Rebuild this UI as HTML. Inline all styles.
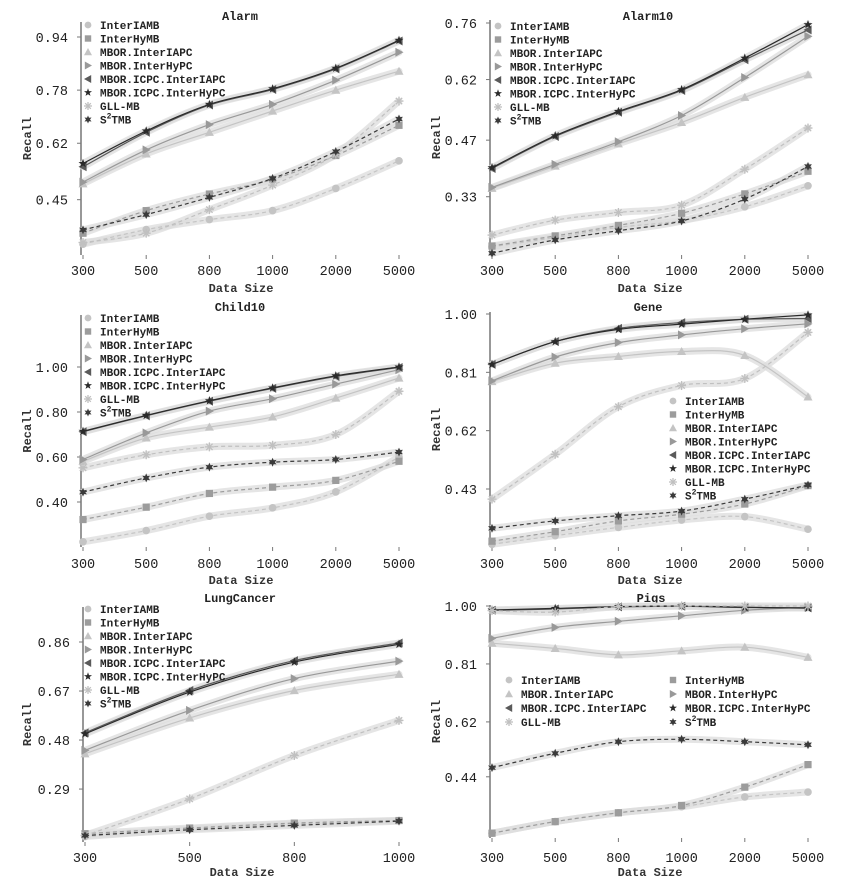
<!DOCTYPE html>
<html><head><meta charset="utf-8"><style>
html,body{margin:0;padding:0;background:#fff;}
svg{display:block;}
</style></head><body>
<svg id="chart" width="865" height="880" xmlns="http://www.w3.org/2000/svg" font-family="'Liberation Mono', monospace"></svg>
<script>
const categories6 = ["300","500","800","1000","2000","5000"];
const categories4 = ["300","500","800","1000"];
const seriesNames = ["InterIAMB","InterHyMB","MBOR.InterIAPC","MBOR.InterHyPC","MBOR.ICPC.InterIAPC","MBOR.ICPC.InterHyPC","GLL-MB","S2TMB"];

const alarmIAMB = [0.316,0.36,0.39,0.417,0.484,0.567];
const alarmHyMB = [0.349,0.417,0.467,0.511,0.583,0.674];
const alarmIAPC = [0.498,0.588,0.653,0.717,0.78,0.837];
const alarmHyPC = [0.503,0.60,0.676,0.737,0.81,0.894];
const alarmIcpcIAPC = [0.549,0.653,0.735,0.782,0.844,0.928];
const alarmIcpcHyPC = [0.559,0.657,0.737,0.784,0.846,0.93];
const alarmGLL = [0.321,0.349,0.42,0.494,0.587,0.747];
const alarmS2TMB = [0.359,0.405,0.457,0.514,0.595,0.693];
const alarmTicks = [0.94,0.78,0.62,0.45];

const alarm10IAMB = [0.206,0.229,0.254,0.271,0.305,0.357];
const alarm10HyMB = [0.208,0.233,0.259,0.289,0.337,0.393];
const alarm10IAPC = [0.351,0.406,0.461,0.514,0.576,0.632];
const alarm10HyPC = [0.353,0.41,0.466,0.531,0.625,0.727];
const alarm10IcpcIAPC = [0.40,0.479,0.539,0.593,0.669,0.743];
const alarm10IcpcHyPC = [0.402,0.481,0.541,0.595,0.673,0.756];
const alarm10GLL = [0.235,0.272,0.291,0.309,0.398,0.50];
const alarm10S2TMB = [0.19,0.223,0.246,0.27,0.324,0.405];
const alarm10Ticks = [0.76,0.62,0.47,0.33];

const childIAMB = [0.223,0.273,0.337,0.374,0.445,0.60];
const childHyMB = [0.322,0.377,0.438,0.466,0.496,0.581];
const childIAPC = [0.581,0.685,0.733,0.778,0.862,0.951];
const childHyPC = [0.589,0.707,0.804,0.859,0.924,0.988];
const childIcpcIAPC = [0.712,0.783,0.848,0.905,0.958,0.998];
const childIcpcHyPC = [0.714,0.785,0.85,0.907,0.961,1.0];
const childGLL = [0.552,0.61,0.645,0.652,0.70,0.892];
const childS2TMB = [0.444,0.507,0.555,0.577,0.589,0.622];
const childTicks = [1.00,0.80,0.60,0.40];

const geneIAMB = [0.25,0.278,0.305,0.329,0.34,0.299];
const geneHyMB = [0.26,0.291,0.326,0.348,0.381,0.441];
const geneIAPC = [0.78,0.84,0.862,0.878,0.865,0.73];
const geneHyPC = [0.782,0.86,0.907,0.932,0.952,0.968];
const geneIcpcIAPC = [0.836,0.91,0.953,0.972,0.983,0.985];
const geneIcpcHyPC = [0.836,0.91,0.95,0.967,0.983,0.997];
const geneGLL = [0.397,0.543,0.698,0.767,0.79,0.94];
const geneS2TMB = [0.302,0.326,0.343,0.358,0.397,0.443];
const geneTicks = [1.00,0.81,0.62,0.43];

const lungIAMB = [0.106,0.135,0.155,0.168];
const lungHyMB = [0.117,0.139,0.158,0.168];
const lungIAPC = [0.427,0.566,0.672,0.735];
const lungHyPC = [0.44,0.595,0.718,0.786];
const lungIcpcIAPC = [0.508,0.672,0.788,0.856];
const lungIcpcHyPC = [0.504,0.666,0.782,0.851];
const lungGLL = [0.11,0.252,0.42,0.556];
const lungS2TMB = [0.11,0.132,0.149,0.166];
const lungTicks = [0.86,0.67,0.48,0.29];

const pigsIAMB = [0.255,0.293,0.322,0.342,0.374,0.39];
const pigsHyMB = [0.255,0.293,0.322,0.346,0.406,0.48];
const pigsIAPC = [0.878,0.861,0.84,0.853,0.865,0.832];
const pigsHyPC = [0.894,0.93,0.95,0.968,0.986,0.996];
const pigsIcpcIAPC = [0.986,0.99,0.997,0.999,0.995,0.994];
const pigsIcpcHyPC = [0.987,0.992,0.998,1.0,0.996,0.993];
const pigsGLL = [0.985,0.98,0.998,1.0,1.0,1.0];
const pigsS2TMB = [0.47,0.517,0.555,0.563,0.555,0.545];
const pigsTicks = [1.00,0.81,0.62,0.44];

const NS="http://www.w3.org/2000/svg";
const svg=document.getElementById('chart');
function mk(tag,attrs,parent){const e=document.createElementNS(NS,tag);for(const k in attrs)e.setAttribute(k,attrs[k]);(parent||svg).appendChild(e);return e;}

const styles=[
 {c:"#c4c4c4",dash:"4,3",m:"circle"},
 {c:"#9c9c9c",dash:"4,3",m:"square"},
 {c:"#c4c4c4",dash:"",m:"tri-up"},
 {c:"#999999",dash:"",m:"tri-right"},
 {c:"#5a5a5a",dash:"",m:"tri-left"},
 {c:"#2a2a2a",dash:"",m:"star"},
 {c:"#c0c0c0",dash:"4,3",m:"asterisk"},
 {c:"#3a3a3a",dash:"4,3",m:"star6"}
];

function marker(g,type,x,y,c,s){
 s=s||4.5;
 if(type==="circle")return mk('circle',{cx:x,cy:y,r:s*0.85,fill:c},g);
 if(type==="square")return mk('rect',{x:x-s*0.8,y:y-s*0.8,width:s*1.6,height:s*1.6,fill:c},g);
 if(type==="tri-up")return mk('polygon',{points:`${x},${y-s} ${x-s},${y+s*0.8} ${x+s},${y+s*0.8}`,fill:c},g);
 if(type==="tri-right")return mk('polygon',{points:`${x+s},${y} ${x-s*0.8},${y-s} ${x-s*0.8},${y+s}`,fill:c},g);
 if(type==="tri-left")return mk('polygon',{points:`${x-s},${y} ${x+s*0.8},${y-s} ${x+s*0.8},${y+s}`,fill:c},g);
 if(type==="star"){let p=[];for(let i=0;i<10;i++){const r=i%2?s*0.42:s*1.05;const a=-Math.PI/2+i*Math.PI/5;p.push((x+r*Math.cos(a)).toFixed(1)+","+(y+r*Math.sin(a)).toFixed(1));}return mk('polygon',{points:p.join(" "),fill:c},g);}
 if(type==="star6"){let p=[];for(let i=0;i<12;i++){const r=i%2?s*0.5:s*1.0;const a=-Math.PI/2+i*Math.PI/6;p.push((x+r*Math.cos(a)).toFixed(1)+","+(y+r*Math.sin(a)).toFixed(1));}return mk('polygon',{points:p.join(" "),fill:c},g);}
 if(type==="asterisk"){const gg=mk('g',{stroke:c,'stroke-width':1.3},g);for(let i=0;i<4;i++){const a=i*Math.PI/4;mk('line',{x1:x-s*Math.cos(a),y1:y-s*Math.sin(a),x2:x+s*Math.cos(a),y2:y+s*Math.sin(a)},gg);}return gg;}
}

function smooth(pts){
 let d=`M${pts[0][0]},${pts[0][1]}`;
 for(let i=0;i<pts.length-1;i++){
  const p0=pts[Math.max(i-1,0)],p1=pts[i],p2=pts[i+1],p3=pts[Math.min(i+2,pts.length-1)];
  const c1=[p1[0]+(p2[0]-p0[0])/6,p1[1]+(p2[1]-p0[1])/6];
  const c2=[p2[0]-(p3[0]-p1[0])/6,p2[1]-(p3[1]-p1[1])/6];
  d+=` C${c1[0].toFixed(1)},${c1[1].toFixed(1)} ${c2[0].toFixed(1)},${c2[1].toFixed(1)} ${p2[0].toFixed(1)},${p2[1].toFixed(1)}`;
 }
 return d;
}

function legendText(t,x,y,g){
 const tx=mk('text',{x:x,y:y+4,'font-size':11,'font-weight':'bold',fill:'#222'},g);
 if(t==="S2TMB"){tx.appendChild(document.createTextNode("S"));const sp=mk('tspan',{'font-size':8,dy:-5},tx);sp.textContent="2";const sp2=mk('tspan',{dy:5},tx);sp2.textContent="TMB";}
 else tx.textContent=t;
 return tx;
}

function panel(cfg){
 const g=mk('g',{});
 
 
 const n=cfg.cats.length;
 const xOf=i=>cfg.xL+(cfg.xR-cfg.xL)*i/(n-1);
 const yOf=v=>cfg.p0+(cfg.v0-v)*cfg.k;
 // axis
 const ax=mk('line',{x1:cfg.xL-2,y1:cfg.top,x2:cfg.xL-2,y2:cfg.bottom,stroke:'#777','stroke-width':1.5},g);
 
 
 cfg.ticks.forEach(t=>{
  const y=yOf(t);
  mk('line',{x1:cfg.xL-6,y1:y,x2:cfg.xL-2,y2:y,stroke:'#777'},g);
  const tl=mk('text',{x:cfg.xL-15,y:y+5,'font-size':13.5,'text-anchor':'end',fill:'#222'},g);
  tl.textContent=t.toFixed(2);
  
  
 });
 cfg.cats.forEach((c,i)=>{
  const x=xOf(i);
  mk('line',{x1:x,y1:cfg.bottom,x2:x,y2:cfg.bottom+4,stroke:'#777'},g);
  const tl=mk('text',{x:x,y:cfg.xly,'font-size':13.5,'text-anchor':'middle',fill:'#222'},g);
  tl.textContent=c;
  
  
 });
 const xt=mk('text',{x:(cfg.xL+cfg.xR)/2,y:cfg.xty,'font-size':12,'font-weight':'bold','text-anchor':'middle',fill:'#333'},g);
 xt.textContent="Data Size";
 
 
 const cy=(cfg.top+cfg.bottom)/2;
 const yt=mk('text',{x:cfg.ytx,y:cy,'font-size':12,'font-weight':'bold','text-anchor':'middle',fill:'#333',transform:`rotate(-90 ${cfg.ytx} ${cy})`},g);
 yt.textContent="Recall";
 
 
 const ti=mk('text',{x:cfg.tx,y:cfg.ty,'font-size':12,'font-weight':'bold','text-anchor':'middle',fill:'#222'},g);
 ti.textContent=cfg.title;
 
 
 // bands
 cfg.series.forEach((vals,si)=>{
  const pts=vals.map((v,i)=>[xOf(i),yOf(v)]);
  const b=mk('path',{d:smooth(pts),fill:'none',stroke:'#dcdcdc','stroke-width':7,'stroke-opacity':0.75,'stroke-linecap':'round'},g);
  
  
 });
 cfg.series.forEach((vals,si)=>{
  const st=styles[si];
  const pts=vals.map((v,i)=>[xOf(i),yOf(v)]);
  const l=mk('path',{d:smooth(pts),fill:'none',stroke:st.c,'stroke-width':1.2,'stroke-dasharray':st.dash},g);
  
  
  pts.forEach(p=>{
   const m=marker(g,st.m,p[0],p[1],st.c);
   
   
  });
 });
 // legend
 const lg=mk('g',{},g);
 
 
 seriesNames.forEach((nm,si)=>{
  let mx,my;
  if(cfg.legCols===2){const col=si%2,row=Math.floor(si/2);mx=cfg.legX[col];my=cfg.legY+row*14;}
  else{mx=cfg.legX[0];my=cfg.legY+si*13.5;}
  const e=mk('g',{},lg);
  
  
  marker(e,styles[si].m,mx,my,styles[si].c,4);
  legendText(nm,mx+12,my,e);
 });
}

panel({name:'alarm',title:'Alarm',cats:categories6,xL:83,xR:399,top:22,bottom:255,v0:0.94,p0:37,k:332,ticks:alarmTicks,tx:240,ty:20,xly:275,xty:292,ytx:31,legX:[88],legY:25,legCols:1,
 series:[alarmIAMB,alarmHyMB,alarmIAPC,alarmHyPC,alarmIcpcIAPC,alarmIcpcHyPC,alarmGLL,alarmS2TMB]});
panel({name:'alarm10',title:'Alarm10',cats:categories6,xL:492,xR:808,top:20,bottom:255,v0:0.76,p0:23,k:404,ticks:alarm10Ticks,tx:648,ty:20,xly:275,xty:292,ytx:440,legX:[498],legY:26,legCols:1,
 series:[alarm10IAMB,alarm10HyMB,alarm10IAPC,alarm10HyPC,alarm10IcpcIAPC,alarm10IcpcHyPC,alarm10GLL,alarm10S2TMB]});
panel({name:'child10',title:'Child10',cats:categories6,xL:83,xR:399,top:315,bottom:547,v0:1.0,p0:367,k:225,ticks:childTicks,tx:240,ty:311,xly:568,xty:584,ytx:31,legX:[88],legY:318,legCols:1,
 series:[childIAMB,childHyMB,childIAPC,childHyPC,childIcpcIAPC,childIcpcHyPC,childGLL,childS2TMB]});
panel({name:'gene',title:'Gene',cats:categories6,xL:492,xR:808,top:312,bottom:547,v0:1.0,p0:314,k:307,ticks:geneTicks,tx:648,ty:311,xly:568,xty:584,ytx:440,legX:[673],legY:401,legCols:1,
 series:[geneIAMB,geneHyMB,geneIAPC,geneHyPC,geneIcpcIAPC,geneIcpcHyPC,geneGLL,geneS2TMB]});
panel({name:'lungcancer',title:'LungCancer',cats:categories4,xL:85,xR:399,top:607,bottom:842,v0:0.86,p0:642,k:258,ticks:lungTicks,tx:240,ty:602,xly:862,xty:876,ytx:31,legX:[88],legY:609,legCols:1,
 series:[lungIAMB,lungHyMB,lungIAPC,lungHyPC,lungIcpcIAPC,lungIcpcHyPC,lungGLL,lungS2TMB]});
panel({name:'pigs',title:'Pigs',cats:categories6,xL:492,xR:808,top:605,bottom:838,v0:1.0,p0:606,k:305,ticks:pigsTicks,tx:651,ty:602,xly:862,xty:876,ytx:440,legX:[509,673],legY:680,legCols:2,
 series:[pigsIAMB,pigsHyMB,pigsIAPC,pigsHyPC,pigsIcpcIAPC,pigsIcpcHyPC,pigsGLL,pigsS2TMB]});
</script>
</body></html>
